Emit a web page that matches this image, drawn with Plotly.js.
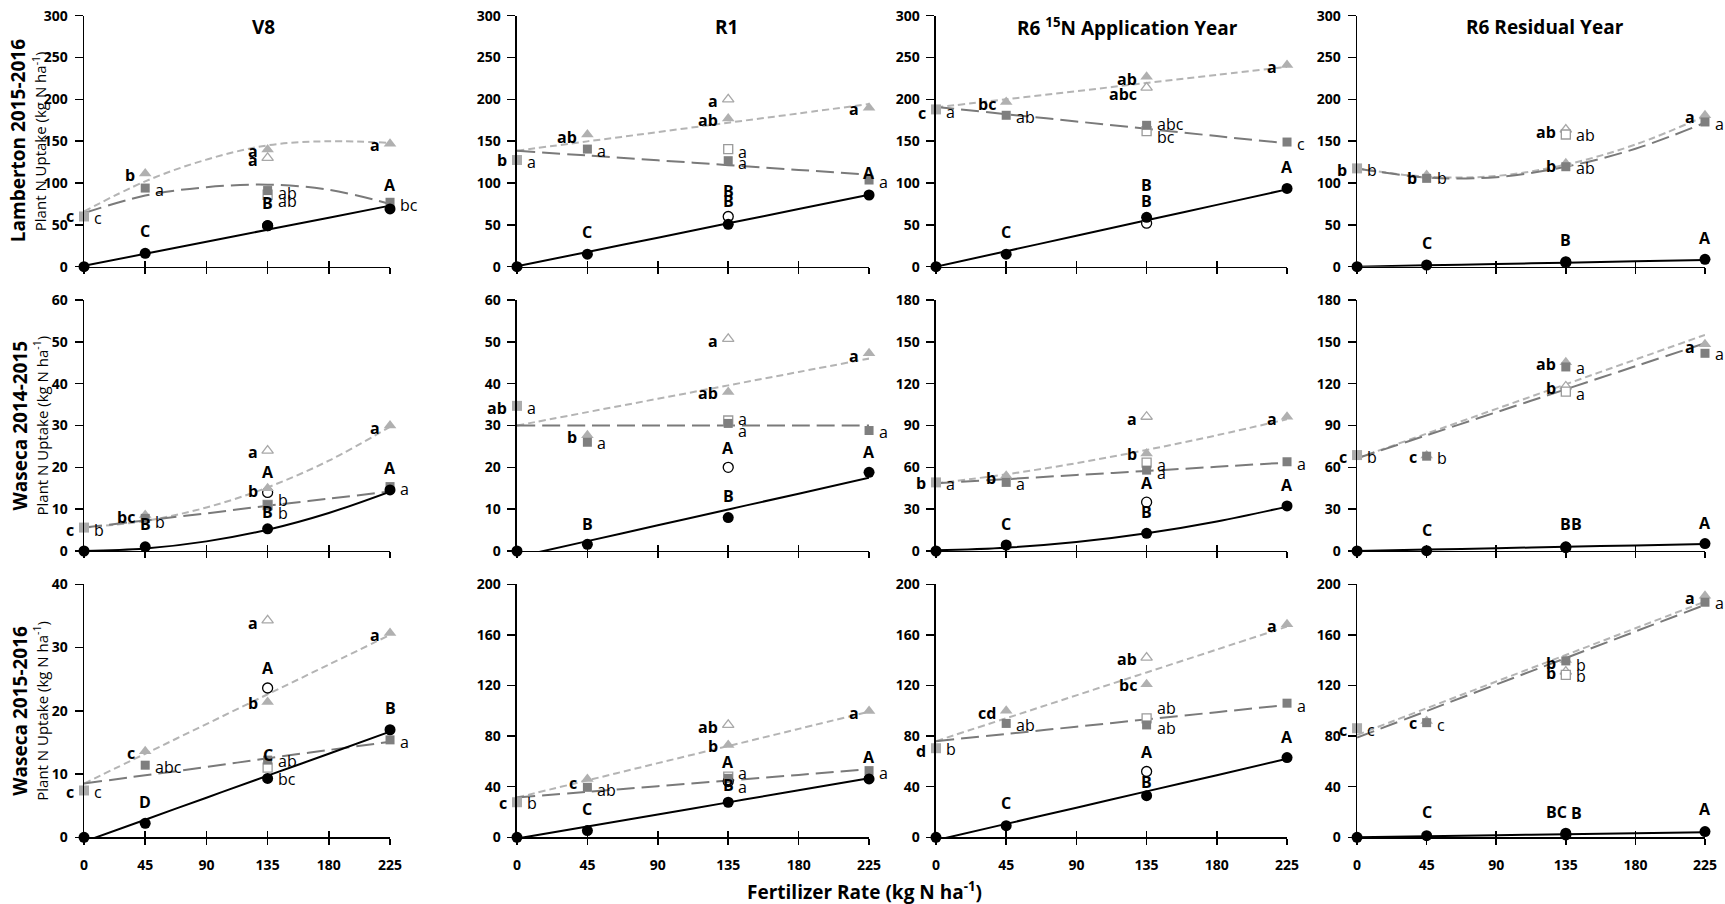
<!DOCTYPE html>
<html><head><meta charset="utf-8">
<script src="https://cdn.plot.ly/plotly-3.0.1.min.js"></script>
<style>body{margin:0;background:#fff}#chart{width:1725px;height:904px}</style>
</head><body><div id="chart"></div>
<script>
// ---------- data ----------
const rates = [0, 45, 135, 225];
const ratesN = [45, 135, 225];
const trendX = [0, 45, 90, 135, 180, 225];
const xTicks = [0, 45, 90, 135, 180, 225];
const stages = ['V8', 'R1', 'R6 <sup>15</sup>N Application Year', 'R6 Residual Year'];
const siteYears = ['Lamberton 2015-2016', 'Waseca 2014-2015', 'Waseca 2015-2016'];
const yLabel = 'Plant N Uptake (kg N ha<sup>-1</sup>)';
const xLabel = 'Fertilizer Rate (kg N ha<sup>-1</sup>)';
const yMax  = [300, 300, 300, 300, 60, 60, 180, 180, 40, 200, 200, 200];
const yStep = [50, 50, 50, 50, 10, 10, 30, 30, 10, 40, 40, 40];

// control (0 N) plot value, light grey square
const control0 = [60, 127.5, 188, 117.5, 5.6, 34.7, 49.2, 68.8, 7.4, 27.7, 70.4, 86.2];
// filled black circles at rates 0,45,135,225
const circleFilled = [
  [0, 16, 49, 69], [0, 15, 50.6, 85.7], [0, 15, 59, 93.6], [0, 2, 6, 8.8],
  [0, 1.0, 5.3, 14.6], [0, 1.6, 8, 18.8], [0, 4.3, 12.7, 32.3], [0, 0.2, 3, 5.3],
  [0, 2.2, 9.3, 17], [0, 5.3, 27.7, 46.1], [0, 9.2, 32.9, 63], [0, 1.3, 3.2, 4.5]
];
// open circles at 135
const circleOpen135 = [49, 60, 52, 5, 14, 20, 35, 2.5, 23.6, 44, 52, 2];
// filled dark squares at 45,135,225
const squareFilled = [
  [94, 91, 77], [140.6, 126.7, 103.6], [181, 169, 149], [105.6, 119.5, 173],
  [7.8, 11, 15.4], [26, 30.5, 28.8], [49.2, 58, 64], [68, 132, 141.8],
  [11.4, 12.2, 15.4], [39.5, 46.6, 52.7], [90, 88.8, 106], [90.6, 139.4, 185.8]
];
const squareOpen135 = [86, 140.6, 162, 158, 11, 31.2, 63.4, 114.3, 11, 48, 94, 128.3];
// filled light triangles at 45,135,225
const triFilled = [
  [111.5, 140, 147], [158, 177, 190], [197, 227, 241], [109.6, 123.5, 181],
  [8.6, 15, 30], [27.7, 38, 47.3], [54, 70, 96.3], [68.5, 135.3, 148.2],
  [13.6, 21.4, 32.3], [46.1, 73, 99.9], [100, 121, 168.4], [92, 140.2, 191]
];
const triOpen135 = [130, 200, 214, 164, 24, 50.7, 96.3, 118, 34.3, 88.8, 142, 131];

// fitted trend lines read at trendX
const circleTrend = [
  [1, 15.4, 29.8, 44.2, 58.6, 73], [0.5, 17.6, 34.7, 51.8, 68.9, 86], [0, 18.5, 37, 55.4, 73.9, 92.4], [0, 1.6, 3.2, 4.8, 6.4, 8],
  [0, 0.6, 2.3, 5.1, 9.1, 14.2], [-1.43, 2.36, 6.14, 9.93, 13.7, 17.5], [0.5, 2.4, 6.4, 12.7, 21.2, 31.8], [0, 1, 2, 3, 4, 5],
  [-0.7, 2.78, 6.26, 9.74, 13.2, 16.7], [-1, 8.5, 18, 27.6, 37.1, 46.6], [-2.3, 10.6, 23.4, 36.3, 49.1, 62], [0, 0.8, 1.6, 2.4, 3.2, 4]
];
const squareTrend = [
  [64, 85, 95, 98, 92, 75], [138.6, 132.9, 127.2, 121.4, 115.7, 110], [191, 182.3, 173.6, 164.8, 156.1, 147.4], [117.5, 106.5, 107, 119.5, 141, 172],
  [5.6, 7.3, 9.0, 10.8, 12.5, 14.2], [30, 30, 30, 30, 30, 30], [48.5, 51.5, 54.5, 57.4, 60.4, 63.4], [66.5, 83, 99.5, 116, 132.5, 149],
  [8.5, 9.8, 11.1, 12.5, 13.8, 15.1], [31.4, 35.9, 40.4, 44.8, 49.3, 53.8], [76, 81.7, 87.4, 93.2, 98.9, 104.6], [78.8, 99.8, 120.8, 141.7, 162.7, 183.7]
];
const triTrend = [
  [66, 102, 128, 145, 150, 148], [138.6, 149.8, 160.9, 172.1, 183.2, 194.4], [190.4, 200.1, 209.8, 219.6, 229.3, 239], [117.5, 107.5, 108.5, 122, 146, 180],
  [5.6, 7.2, 10.4, 15.2, 21.6, 29.7], [30, 33.2, 36.4, 39.6, 42.8, 46], [48.5, 55, 63, 72.5, 83, 94.5], [66.5, 84.2, 101.9, 119.6, 137.3, 155],
  [8.5, 13.2, 17.9, 22.6, 27.3, 32], [31.4, 45, 58.6, 72.1, 85.7, 99.3], [76, 94.1, 112.2, 130.3, 148.4, 166.5], [80.9, 102, 123.1, 144.1, 165.2, 186.3]
];

// mean-separation letters: [text, rate, value, side]  (L = bold left, R = right, C = bold above)
const letters = [
  [['c',0,60,'L'],['c',0,58,'R'],['b',45,109,'L'],['a',45,92,'R'],['C',45,43,'C'],['a',135,138,'L'],['a',135,128,'L'],['ab',135,88,'R'],['ab',135,78,'R'],['B',135,76,'C'],['a',225,145,'L'],['A',225,98,'C'],['bc',225,74,'R']],
  [['b',0,127.5,'L'],['a',0,125.5,'R'],['ab',45,155,'L'],['a',45,138,'R'],['C',45,41,'C'],['a',135,198,'L'],['ab',135,175,'L'],['a',135,137.5,'R'],['a',135,123.5,'R'],['B',135,91,'C'],['B',135,78,'C'],['a',225,188,'L'],['A',225,112,'C'],['a',225,101.6,'R']],
  [['c',0,184,'L'],['a',0,185,'R'],['bc',45,194,'L'],['ab',45,179,'R'],['C',45,41,'C'],['ab',135,224,'L'],['abc',135,206,'L'],['abc',135,170,'R'],['bc',135,155,'R'],['B',135,97.6,'C'],['B',135,78.5,'C'],['a',225,239,'L'],['A',225,119.5,'C'],['c',225,146.6,'R']],
  [['b',0,116,'L'],['b',0,116,'R'],['b',45,106,'L'],['b',45,105.6,'R'],['C',45,28,'C'],['ab',135,160.6,'L'],['ab',135,157,'R'],['b',135,120.7,'L'],['ab',135,117.5,'R'],['B',135,32,'C'],['a',225,178.5,'L'],['a',225,171,'R'],['A',225,34,'C']],
  [['c',0,5,'L'],['b',0,5,'R'],['bc',45,8.2,'L'],['B',45,6.4,'C'],['b',45,7,'R'],['a',135,23.6,'L'],['A',135,19,'C'],['b',135,14.3,'L'],['b',135,12.2,'R'],['B',135,9.4,'C'],['b',135,9,'R'],['a',225,29.5,'L'],['A',225,19.9,'C'],['a',225,14.8,'R']],
  [['ab',0,34.2,'L'],['a',0,34.2,'R'],['b',45,27.3,'L'],['a',45,25.7,'R'],['B',45,6.4,'C'],['a',135,50.2,'L'],['ab',135,37.7,'L'],['a',135,31.5,'R'],['a',135,28.8,'R'],['A',135,24.7,'C'],['B',135,13.2,'C'],['a',225,46.6,'L'],['A',225,23.7,'C'],['a',225,28.5,'R']],
  [['b',0,48.5,'L'],['a',0,47.8,'R'],['b',45,52,'L'],['a',45,47.8,'R'],['C',45,19,'C'],['a',135,95,'L'],['b',135,69.3,'L'],['a',135,61.7,'R'],['a',135,55.7,'R'],['A',135,48.5,'C'],['B',135,28.2,'C'],['a',225,95,'L'],['A',225,47.3,'C'],['a',225,62.4,'R']],
  [['c',0,67.2,'L'],['b',0,67.2,'R'],['c',45,67.7,'L'],['b',45,67,'R'],['C',45,15,'C'],['ab',135,134,'L'],['a',135,131.5,'R'],['b',135,116.7,'L'],['a',135,112.4,'R'],['B',135,19,'C'],['B',135,19,'CR'],['a',225,146.3,'L'],['a',225,141,'R'],['A',225,20,'C']],
  [['c',0,7.1,'L'],['c',0,7.1,'R'],['c',45,13.3,'L'],['abc',45,11.1,'R'],['D',45,5.6,'C'],['a',135,33.8,'L'],['A',135,26.8,'C'],['b',135,21.3,'L'],['C',135,13,'C'],['ab',135,12.1,'R'],['bc',135,9.2,'R'],['a',225,32,'L'],['B',225,20.5,'C'],['a',225,15.1,'R']],
  [['c',0,26.9,'L'],['b',0,26.9,'R'],['c',45,43.2,'L'],['ab',45,37.4,'R'],['C',45,22.4,'C'],['ab',135,87.5,'L'],['b',135,72.5,'L'],['A',135,59.3,'C'],['a',135,50.6,'R'],['a',135,40,'R'],['B',135,41.4,'C'],['a',225,98,'L'],['A',225,63.8,'C'],['a',225,50.6,'R']],
  [['d',0,68.2,'L'],['b',0,69.6,'R'],['cd',45,98,'L'],['ab',45,88.8,'R'],['C',45,26.9,'C'],['ab',135,141,'L'],['bc',135,120,'L'],['ab',135,102,'R'],['ab',135,86.7,'R'],['A',135,67.7,'C'],['B',135,44,'C'],['a',225,167,'L'],['A',225,79.6,'C'],['a',225,104,'R']],
  [['c',0,84.8,'L'],['c',0,84.8,'R'],['c',45,90,'L'],['c',45,88.8,'R'],['C',45,19.8,'C'],['b',135,137.5,'L'],['b',135,129.6,'L'],['b',135,136,'R'],['b',135,127.8,'R'],['BC',135,19.8,'CL'],['B',135,19,'CR'],['a',225,188.9,'L'],['a',225,185,'R'],['A',225,22.4,'C']]
];

// ---------- layout / drawing ----------
const FONT = '"Open Sans", sans-serif';
const colDomains = [[0.0487, 0.2261], [0.2997, 0.5038], [0.5426, 0.7461], [0.7867, 0.9884]];
const rowDomains = [[0.7050, 0.9826], [0.3905, 0.6681], [0.0738, 0.3537]];
const titleX = [0.1525, 0.4214, 0.6539, 0.8957];

const traces = [];
const annotations = [];
const layout = {
  width: 1725, height: 904, margin: {l: 0, r: 0, t: 0, b: 0, autoexpand: false},
  paper_bgcolor: '#fff', plot_bgcolor: '#fff', showlegend: false,
  font: {family: FONT, color: '#000'}
};

for (let p = 0; p < 12; p++) {
  const r = Math.floor(p / 4), c = p % 4;
  const n = p === 0 ? '' : String(p + 1);
  const xa = 'x' + n, ya = 'y' + n;
  const xo = 'x' + (p + 13);

  layout['xaxis' + n] = {
    domain: colDomains[c], anchor: ya, range: [0, 225], tickvals: xTicks,
    showticklabels: r === 2, ticks: 'outside', ticklen: 6, tickwidth: 1.5, tickcolor: '#000',
    showline: true, linecolor: '#000', linewidth: 1.5, showgrid: false, zeroline: false,
    tickfont: {family: FONT, size: 14, color: '#000', weight: 700}, ticklabelstandoff: 8
  };
  // overlay axis giving the upper half of the crossing x ticks
  layout['xaxis' + (p + 13)] = {
    overlaying: xa, anchor: ya, range: [0, 225], tickvals: xTicks,
    showticklabels: false, ticks: 'inside', ticklen: 6, tickwidth: 1.5, tickcolor: '#000',
    showline: false, showgrid: false, zeroline: false
  };
  layout['yaxis' + n] = {
    domain: rowDomains[r], anchor: xa, range: [0, yMax[p]], tick0: 0, dtick: yStep[p],
    ticks: 'outside', ticklen: 8, tickwidth: 1.5, tickcolor: '#000',
    showline: true, linecolor: '#000', linewidth: 1.5, showgrid: false, zeroline: false,
    tickfont: {family: FONT, size: 14, color: '#000', weight: 700}, ticklabelstandoff: 4
  };
  traces.push({x: [], y: [], xaxis: xo, yaxis: ya, mode: 'markers', hoverinfo: 'skip'});

  const base = {xaxis: xa, yaxis: ya, hoverinfo: 'skip'};
  // trend lines
  traces.push(Object.assign({}, base, {x: trendX, y: triTrend[p], mode: 'lines',
    line: {color: '#b4b4b4', width: 2, dash: '7px,4px', shape: 'spline', smoothing: 1}}));
  traces.push(Object.assign({}, base, {x: trendX, y: squareTrend[p], mode: 'lines',
    line: {color: '#7a7a7a', width: 2, dash: '18px,7px', shape: 'spline', smoothing: 1}}));
  traces.push(Object.assign({}, base, {x: trendX, y: circleTrend[p], mode: 'lines',
    line: {color: '#000', width: 2, shape: 'spline', smoothing: 1}}));
  // open markers at 135
  traces.push(Object.assign({}, base, {x: [135], y: [triOpen135[p]], mode: 'markers', cliponaxis: false,
    marker: {symbol: 'triangle-up', size: 10, color: '#fff', line: {color: '#a8a8a8', width: 1.3}}}));
  traces.push(Object.assign({}, base, {x: [135], y: [squareOpen135[p]], mode: 'markers', cliponaxis: false,
    marker: {symbol: 'square', size: 9, color: '#fff', line: {color: '#9a9a9a', width: 1.3}}}));
  traces.push(Object.assign({}, base, {x: [135], y: [circleOpen135[p]], mode: 'markers', cliponaxis: false,
    marker: {symbol: 'circle', size: 10, color: '#fff', line: {color: '#000', width: 1.3}}}));
  // control at 0
  traces.push(Object.assign({}, base, {x: [0], y: [control0[p]], mode: 'markers', cliponaxis: false,
    marker: {symbol: 'square', size: 10, color: '#ababab'}}));
  // filled markers
  traces.push(Object.assign({}, base, {x: ratesN, y: triFilled[p], mode: 'markers', cliponaxis: false,
    marker: {symbol: 'triangle-up', size: 11, color: '#b0b0b0'}}));
  traces.push(Object.assign({}, base, {x: ratesN, y: squareFilled[p], mode: 'markers', cliponaxis: false,
    marker: {symbol: 'square', size: 9, color: '#7f7f7f'}}));
  traces.push(Object.assign({}, base, {x: rates, y: circleFilled[p], mode: 'markers', cliponaxis: false,
    marker: {symbol: 'circle', size: 11, color: '#000'}}));

  // letters
  letters[p].forEach(([t, x, y, side]) => {
    const bold = side !== 'R';
    const shifts = {L: -8, R: 8, C: 0, CL: -9, CR: 11};
    annotations.push({
      xref: xa, yref: ya, x: x, y: y, text: t, showarrow: false,
      xanchor: side === 'L' ? 'right' : (side === 'R' ? 'left' : 'center'),
      yanchor: 'middle', xshift: shifts[side],
      font: {family: FONT, size: 16, color: '#000', weight: bold ? 700 : 400}
    });
  });
}

// column titles
stages.forEach((s, c) => annotations.push({
  xref: 'paper', yref: 'paper', x: titleX[c], y: 1 - 27 / 904, text: s, showarrow: false,
  xanchor: 'center', yanchor: 'middle', font: {family: FONT, size: 19, color: '#000', weight: 700}
}));
// row labels, anchored to the middle of each row's first y axis
const rowAxes = ['y', 'y5', 'y9'];
const rowFirstPanel = [0, 4, 8];
siteYears.forEach((s, r) => {
  const mid = yMax[rowFirstPanel[r]] / 2;
  annotations.push({xref: 'paper', yref: rowAxes[r], x: (r === 0 ? 18 : 20) / 1725, y: mid,
    text: s, showarrow: false, textangle: -90, xanchor: 'center', yanchor: 'middle',
    font: {family: FONT, size: 19, color: '#000', weight: 700}});
  annotations.push({xref: 'paper', yref: rowAxes[r], x: (r === 0 ? 39 : 41) / 1725, y: mid,
    text: yLabel, showarrow: false, textangle: -90, xanchor: 'center', yanchor: 'middle',
    font: {family: FONT, size: 15, color: '#000'}});
});
// x-axis title
annotations.push({xref: 'paper', yref: 'paper', x: 864 / 1725, y: 1 - 891 / 904, text: xLabel, showarrow: false,
  xanchor: 'center', yanchor: 'middle', font: {family: FONT, size: 19, color: '#000', weight: 700}});

layout.annotations = annotations;
Plotly.newPlot('chart', traces, layout, {staticPlot: true, displayModeBar: false});
</script>
</body></html>
